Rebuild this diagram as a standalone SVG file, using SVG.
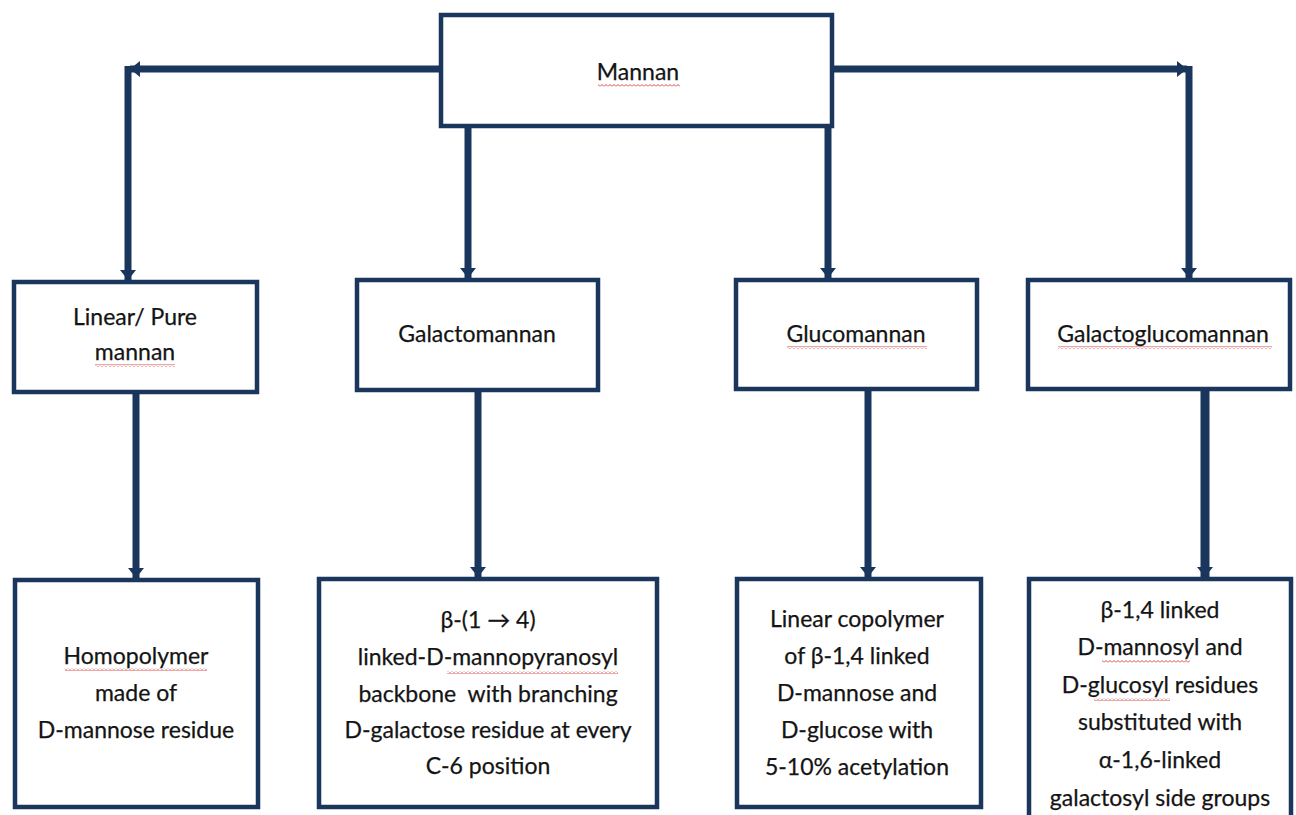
<svg xmlns="http://www.w3.org/2000/svg" width="1296" height="815" viewBox="0 0 1296 815">
<style>
.box{fill:#ffffff;stroke:#1b365d;stroke-width:4.5}
.con{stroke:#1b365d;stroke-width:7;fill:none}
.t{font-family:Lato,"Open Sans","Liberation Sans",sans-serif;font-size:23px;fill:#141414;text-anchor:middle;stroke:#141414;stroke-width:0.25}
.wv{fill:url(#wave)}
</style>
<defs>
<marker id="ah" markerUnits="userSpaceOnUse" markerWidth="12" markerHeight="16" refX="10" refY="8" orient="auto">
<path d="M0,0 L10,8 L0,16 z" fill="#1b365d"/>
</marker>
<pattern id="wave" patternUnits="userSpaceOnUse" width="4" height="3">
<path d="M0,2.5 L2,0.5 L4,2.5" stroke="#d23a3a" stroke-width="0.9" fill="none"/>
</pattern>
</defs>
<rect width="1296" height="815" fill="#ffffff"/>
<g id="connectors">
<line class="con" x1="441" y1="69" x2="130" y2="69" marker-end="url(#ah)"/>
<line class="con" x1="128" y1="66" x2="128" y2="280" marker-end="url(#ah)"/>
<line class="con" x1="832" y1="69" x2="1187" y2="69" marker-end="url(#ah)"/>
<line class="con" x1="1189" y1="66" x2="1189" y2="278" marker-end="url(#ah)"/>
<line class="con" x1="468" y1="126" x2="468" y2="278" marker-end="url(#ah)"/>
<line class="con" x1="828" y1="126" x2="828" y2="278" marker-end="url(#ah)"/>
<line class="con" x1="136" y1="392" x2="136" y2="578" marker-end="url(#ah)"/>
<line class="con" x1="478" y1="390" x2="478" y2="577" marker-end="url(#ah)"/>
<line class="con" x1="868" y1="389" x2="868" y2="577" marker-end="url(#ah)"/>
<line class="con" x1="1205" y1="389" x2="1205" y2="577" marker-end="url(#ah)" style="stroke-width:9"/>
</g>
<g id="mannan">
<rect class="box" x="441" y="15" width="391" height="111"/>
<text class="t" x="638" y="80">Mannan</text>
<rect class="wv" x="598" y="84" width="82" height="3"/>
</g>
<g id="linear">
<rect class="box" x="14" y="282" width="243" height="110"/>
<text class="t" x="135" y="325">Linear/ Pure</text>
<text class="t" x="135" y="360">mannan</text>
<rect class="wv" x="95" y="364" width="80" height="3"/>
</g>
<g id="galactomannan">
<rect class="box" x="357" y="280" width="241" height="110"/>
<text class="t" x="477" y="342">Galactomannan</text>
</g>
<g id="glucomannan">
<rect class="box" x="736" y="280" width="241" height="109"/>
<text class="t" x="856" y="342">Glucomannan</text>
<rect class="wv" x="787" y="346" width="140" height="3"/>
</g>
<g id="galactoglucomannan">
<rect class="box" x="1028" y="280" width="262" height="109"/>
<text class="t" x="1163" y="342">Galactoglucomannan</text>
<rect class="wv" x="1058" y="346" width="214" height="3"/>
</g>
<g id="homopolymer">
<rect class="box" x="15" y="580" width="243" height="227"/>
<text class="t" x="136" y="664">Homopolymer</text>
<text class="t" x="136" y="701">made of</text>
<text class="t" x="136" y="738">D-mannose residue</text>
<rect class="wv" x="65" y="668" width="142" height="3"/>
</g>
<g id="galactomannan-desc">
<rect class="box" x="319" y="579" width="338" height="228"/>
<text class="t" x="488" y="628">β-(1 → 4)</text>
<text class="t" x="488" y="665">linked-D-mannopyranosyl</text>
<text class="t" x="488" y="702">backbone &#160;with branching</text>
<text class="t" x="488" y="738">D-galactose residue at every</text>
<text class="t" x="488" y="774">C-6 position</text>
<rect class="wv" x="447" y="671" width="171" height="3"/>
</g>
<g id="glucomannan-desc">
<rect class="box" x="737" y="579" width="244" height="228"/>
<text class="t" x="857" y="627">Linear copolymer</text>
<text class="t" x="857" y="664">of β-1,4 linked</text>
<text class="t" x="857" y="701">D-mannose and</text>
<text class="t" x="857" y="738">D-glucose with</text>
<text class="t" x="857" y="775">5-10% acetylation</text>
</g>
<g id="galactoglucomannan-desc">
<rect class="box" x="1029" y="579" width="262" height="250"/>
<text class="t" x="1160" y="618">β-1,4 linked</text>
<text class="t" x="1160" y="655">D-mannosyl and</text>
<text class="t" x="1160" y="693">D-glucosyl residues</text>
<text class="t" x="1160" y="730">substituted with</text>
<text class="t" x="1160" y="768">α-1,6-linked</text>
<text class="t" x="1160" y="806">galactosyl side groups</text>
<rect class="wv" x="1102" y="660" width="88" height="3"/>
<rect class="wv" x="1094" y="698" width="76" height="3"/>
</g>
</svg>
